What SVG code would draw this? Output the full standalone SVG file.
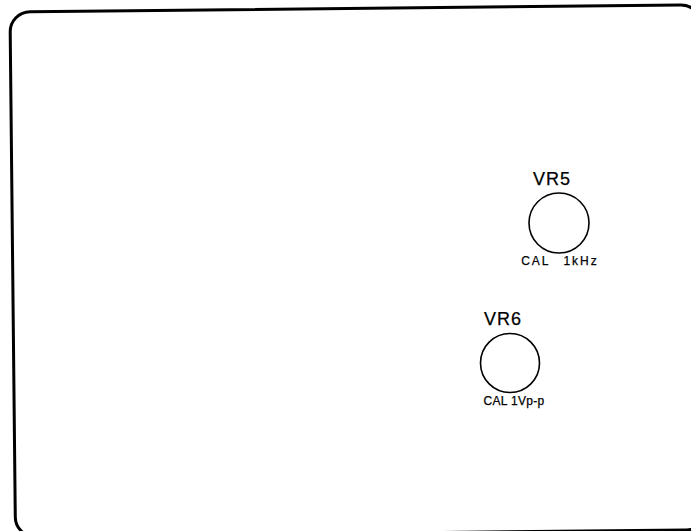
<svg xmlns="http://www.w3.org/2000/svg" width="691" height="531" viewBox="0 0 691 531">
<style>
.frame{fill:none;stroke:#000;stroke-width:3}
.knob{fill:none;stroke:#000;stroke-width:1.6}
.lbl{font-family:"Liberation Sans",Arial,sans-serif;fill:#000;stroke:#000;stroke-width:0.25}
.big{font-size:18px}
.small{font-size:12px}
</style>
<rect width="691" height="531" fill="#fff"/>
<g id="panel">
<rect class="frame" x="10" y="12" width="691" height="525" rx="20" ry="20" transform="rotate(-0.6 10 12)"/>
</g>
<g id="vr5">
<text class="lbl big" x="552" y="185" text-anchor="middle" letter-spacing="1">VR5</text>
<circle class="knob" cx="559" cy="223" r="30"/>
<text class="lbl small" x="560" y="265" text-anchor="middle" letter-spacing="2" word-spacing="8">CAL 1kHz</text>
</g>
<g id="vr6">
<text class="lbl big" x="503" y="325" text-anchor="middle" letter-spacing="1">VR6</text>
<circle class="knob" cx="510" cy="363" r="29.5"/>
<text class="lbl small" x="514" y="405" text-anchor="middle" letter-spacing="0.3">CAL 1Vp-p</text>
</g>
<g id="connectors"/>
</svg>
